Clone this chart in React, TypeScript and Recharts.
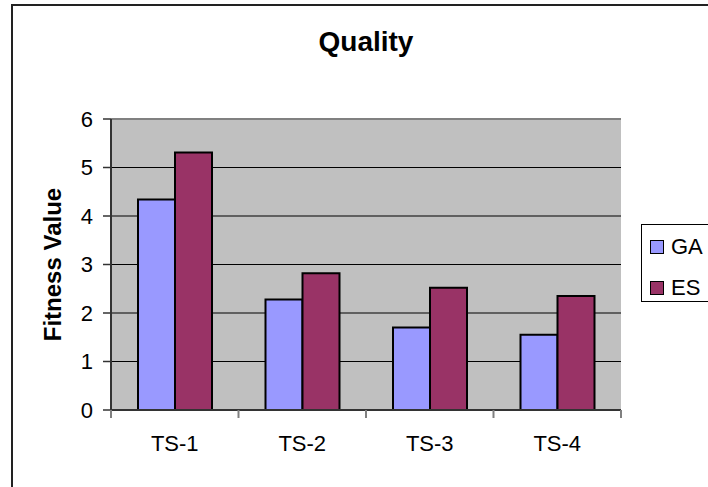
import * as React from "react"
import {
  BarChart,
  Bar,
  XAxis,
  YAxis,
  CartesianGrid,
  ReferenceLine,
} from "recharts"

const categories = ["TS-1", "TS-2", "TS-3", "TS-4"]
const gaValues = [4.34, 2.28, 1.7, 1.55]
const esValues = [5.31, 2.82, 2.52, 2.35]
const yTicks = [0, 1, 2, 3, 4, 5, 6]

const series = [
  { key: "GA", label: "GA", color: "#9999FF" },
  { key: "ES", label: "ES", color: "#993366" },
]

const data = categories.map((name, i) => ({
  name,
  GA: gaValues[i],
  ES: esValues[i],
}))

const WIDTH = 708
const HEIGHT = 487
const FONT = "Arial, 'Liberation Sans', sans-serif"
const MARGIN = { top: 119, right: 87, bottom: 17, left: 11 }
const PLOT_W = WIDTH - 111 - MARGIN.right
const HALF_BAND = PLOT_W / categories.length / 2

function CategoryTick(props: any) {
  const { x, y, payload, index } = props
  return (
    <g>
      {index === 0 && (
        <line x1={x - HALF_BAND} x2={x - HALF_BAND} y1={y} y2={y + 8} stroke="#808080" strokeWidth={2} />
      )}
      <line x1={x + HALF_BAND} x2={x + HALF_BAND} y1={y} y2={y + 8} stroke="#808080" strokeWidth={2} />
      <text
        x={x}
        y={y + 33}
        textAnchor="middle"
        dominantBaseline="central"
        fontSize={22}
        fontFamily={FONT}
        fill="#000"
      >
        {payload.value}
      </text>
    </g>
  )
}

// legend drawn as a plain overlay so it does not eat into the plot area
function LegendBox() {
  return (
    <div
      style={{
        position: "absolute",
        left: 641,
        top: 224,
        width: 90,
        height: 76,
        border: "1px solid #000",
        background: "#fff",
        fontFamily: FONT,
        fontSize: 22,
      }}
    >
      {series.map((s, i) => (
        <div
          key={s.key}
          style={{
            position: "absolute",
            left: 8,
            top: 5 + i * 41,
            height: 33,
            display: "flex",
            alignItems: "center",
          }}
        >
          <span
            style={{
              display: "inline-block",
              width: 12,
              height: 12,
              background: s.color,
              border: "1.5px solid #000",
              marginRight: 7,
            }}
          />
          <span>{s.label}</span>
        </div>
      ))}
    </div>
  )
}

export default function App() {
  return (
    <div
      style={{
        position: "absolute",
        left: 0,
        top: 0,
        width: WIDTH,
        height: HEIGHT,
        overflow: "hidden",
        background: "#fff",
        fontFamily: FONT,
      }}
    >
      <div
        style={{
          position: "absolute",
          left: 11,
          top: 4,
          width: 740,
          height: 520,
          border: "2px solid #222",
        }}
      />
      <div
        style={{
          position: "absolute",
          left: 111,
          top: 28,
          width: PLOT_W,
          textAlign: "center",
          fontSize: 28,
          lineHeight: "28px",
          fontWeight: "bold",
        }}
      >
        Quality
      </div>
      <div style={{ position: "absolute", left: 0, top: 0 }}>
        <BarChart width={WIDTH} height={HEIGHT} data={data} margin={MARGIN} barGap={0}>
          <CartesianGrid vertical={false} fill="#C0C0C0" stroke="#000" strokeOpacity={1} />
          <XAxis
            dataKey="name"
            height={60}
            tickSize={0}
            tickMargin={0}
            tickLine={false}
            axisLine={{ stroke: "#333", strokeWidth: 2 }}
            tick={<CategoryTick />}
            interval={0}
          />
          <YAxis
            width={100}
            domain={[0, 6]}
            ticks={yTicks}
            interval={0}
            tickSize={8}
            tickMargin={10}
            tickLine={{ stroke: "#333", strokeWidth: 1.5 }}
            axisLine={{ stroke: "#333", strokeWidth: 2 }}
            tick={{ fontSize: 22, fill: "#000", fontFamily: FONT }}
            label={{
              value: "Fitness Value",
              angle: -90,
              position: "insideLeft",
              offset: 41,
              style: { textAnchor: "middle", fontSize: 24, fontWeight: "bold", fill: "#000", fontFamily: FONT },
            }}
          />
          <YAxis
            yAxisId="right"
            orientation="right"
            width={0}
            domain={[0, 6]}
            tick={false}
            tickLine={false}
            axisLine={{ stroke: "#808080", strokeWidth: 2 }}
          />
          <ReferenceLine y={6} stroke="#808080" strokeWidth={2} />
          {series.map((s) => (
            <Bar
              key={s.key}
              dataKey={s.key}
              name={s.label}
              fill={s.color}
              stroke="#000"
              strokeWidth={2}
              barSize={37}
              isAnimationActive={false}
            />
          ))}
        </BarChart>
      </div>
      <LegendBox />
    </div>
  )
}
